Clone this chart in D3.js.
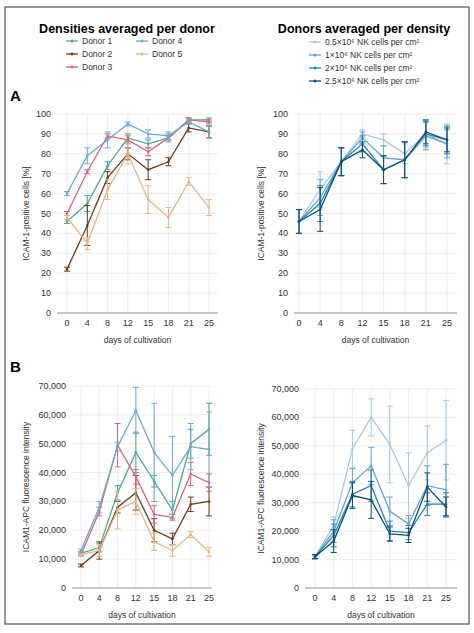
<!DOCTYPE html><html><head><meta charset="utf-8">
<script src="https://cdn.jsdelivr.net/npm/d3@7"></script>
<style>body{margin:0;background:#fff}text{font-family:"Liberation Sans",Arial,sans-serif}</style></head><body>
<svg id="c" width="474" height="633"></svg>
<script>
const days=["0","4","8","12","15","18","21","25"];
const donors=["Donor 1","Donor 2","Donor 3","Donor 4","Donor 5"];
const donorColors=["#4aa98c","#6b3b1c","#d8647e","#6ea9d2","#eab486"];
const densities=["0.5×10⁶ NK cells per cm²","1×10⁶ NK cells per cm²","2×10⁶ NK cells per cm²","2.5×10⁶ NK cells per cm²"];
const densityColors=["#a9c9de","#5ea7cf","#2186bd","#0f4c70"];
const pctDonor=[[46,55,74,88,85,88,97,97],[22,44,68,80,72,76,93,91],[50,71,89,87,81,88,97,96],[60,79,87,95,90,89,96,91],[48,35,62,80,57,48,66,53]];
const pctDonorErr=[[1,4,2,2,2,2,1,1],[1,10,3,3,5,2,2,3],[1,1,1,2,2,1,1,1],[1,4,4,1,2,2,1,3],[1,3,5,5,7,5,2,4]];
const pctDens=[[46,62,76,90,87,80,90,85],[46,58,76,88,78,77,89,85],[46,55,76,85,72,77,90,87],[46,52,76,82,72,77,91,87]];
const pctDensErr=[[6,9,7,2,3,5,7,10],[6,9,7,3,6,9,7,7],[6,9,7,4,7,9,6,7],[6,11,7,4,7,9,6,6]];
const mfiDonor=[[12000,14000,33000,47000,37000,27000,50000,55000],[7800,13000,28000,33000,20000,17000,29000,30000],[11500,26500,49500,38500,25500,24500,39500,36500],[13000,28000,49000,61500,47000,39000,49000,48000],[11500,13000,27000,30000,16000,13000,18500,12500]];
const mfiDonorErr=[[500,1500,2500,7000,2000,3000,5000,9000],[500,3000,2000,6000,4000,2000,2500,5000],[500,1500,7500,2500,3000,1000,4000,3000],[500,2000,1500,8000,17000,13500,8000,13000],[500,2000,6500,4500,3000,2000,1000,1500]];
const mfiDens=[[11000,22000,49000,60000,50500,36000,47500,52000],[11000,20000,37000,43000,27000,22500,36000,34500],[11000,18500,33000,36000,20000,19500,29500,29500],[11000,16500,32500,31000,19000,18500,35500,28500]];
const mfiDensErr=[[700,3000,6500,6500,13500,11500,9500,14000],[700,4000,5000,6500,5000,3000,7000,9000],[700,4000,4500,5500,3500,2500,4000,4000],[700,4000,4500,6500,2500,2500,5000,3500]];

const svg=d3.select("#c");
svg.append("rect").attr("x",5).attr("y",7).attr("width",464).attr("height",617).attr("fill","none").attr("stroke","#555").attr("stroke-width",1.2);

function panel(o){
  const x=d3.scalePoint().domain(days).range([o.x0,o.x1]);
  const y=d3.scaleLinear().domain([0,o.max]).range([o.yb,o.yt]);
  const g=svg.append("g");
  const ticks=d3.range(0,o.max+1,o.step);
  g.selectAll(".hg").data(ticks).join("line").attr("x1",o.l).attr("x2",o.r).attr("y1",d=>y(d)).attr("y2",d=>y(d)).attr("stroke","#e8e8e8").attr("stroke-width",0.8);
  g.selectAll(".vg").data(days).join("line").attr("x1",d=>x(d)).attr("x2",d=>x(d)).attr("y1",o.yt).attr("y2",o.yb).attr("stroke","#e8e8e8").attr("stroke-width",0.8);
  g.append("line").attr("x1",o.l).attr("x2",o.r).attr("y1",o.yb).attr("y2",o.yb).attr("stroke","#999");
  g.selectAll(".yl").data(ticks).join("text").attr("x",o.l-6).attr("y",d=>y(d)+3).attr("text-anchor","end").attr("font-size",9).attr("fill","#333").text(d=>o.fmt(d));
  g.selectAll(".xl").data(days).join("text").attr("x",d=>x(d)).attr("y",o.yb+13).attr("text-anchor","middle").attr("font-size",9).attr("fill","#333").text(d=>d);
  g.append("text").attr("x",(o.l+o.r)/2).attr("y",o.yb+30).attr("text-anchor","middle").attr("font-size",8.5).attr("fill","#333").text("days of cultivation");
  g.append("text").attr("transform",`translate(${o.yx},${(o.yt+o.yb)/2}) rotate(-90)`).attr("text-anchor","middle").attr("font-size",8.5).attr("fill","#333").text(o.ylab);
  const line=d3.line().x((d,i)=>x(days[i])).y(d=>y(d));
  o.data.forEach((s,k)=>{
    const c=o.colors[k];
    g.append("path").attr("d",line(s)).attr("fill","none").attr("stroke",c).attr("stroke-width",1.3);
    s.forEach((v,i)=>{
      const e=o.err[k][i],xx=x(days[i]);
      g.append("line").attr("x1",xx).attr("x2",xx).attr("y1",y(v-e)).attr("y2",y(v+e)).attr("stroke",c).attr("stroke-width",1);
      [v-e,v+e].forEach(w=>g.append("line").attr("x1",xx-3).attr("x2",xx+3).attr("y1",y(w)).attr("y2",y(w)).attr("stroke",c).attr("stroke-width",1));
      g.append("circle").attr("cx",xx).attr("cy",y(v)).attr("r",1.3).attr("fill",c);
    });
  });
}
const fmtP=d=>d, fmtM=d3.format(",");
panel({x0:67,x1:209,l:57,r:218,yt:114,yb:313,max:100,step:10,fmt:fmtP,yx:29,ylab:"ICAM-1-positive cells [%]",data:pctDonor,err:pctDonorErr,colors:donorColors});
panel({x0:299,x1:447,l:294,r:457,yt:114,yb:313,max:100,step:10,fmt:fmtP,yx:264,ylab:"ICAM-1-positive cells [%]",data:pctDens,err:pctDensErr,colors:densityColors});
panel({x0:81,x1:209,l:72,r:212,yt:386,yb:588,max:70000,step:10000,fmt:fmtM,yx:29,ylab:"ICAM1-APC fluorescence intensity",data:mfiDonor,err:mfiDonorErr,colors:donorColors});
panel({x0:315,x1:446,l:305,r:457,yt:389,yb:588,max:70000,step:10000,fmt:fmtM,yx:264,ylab:"ICAM1-APC fluorescence intensity",data:mfiDens,err:mfiDensErr,colors:densityColors});

svg.append("text").attr("x",127).attr("y",33).attr("text-anchor","middle").attr("font-size",12.5).attr("font-weight","bold").text("Densities averaged per donor");
svg.append("text").attr("x",364).attr("y",33).attr("text-anchor","middle").attr("font-size",12.5).attr("font-weight","bold").text("Donors averaged per density");
svg.append("text").attr("x",10).attr("y",101).attr("font-size",15).attr("font-weight","bold").text("A");
svg.append("text").attr("x",10).attr("y",372).attr("font-size",15).attr("font-weight","bold").text("B");
function legItem(x,y,c,t){
  svg.append("line").attr("x1",x).attr("x2",x+12).attr("y1",y).attr("y2",y).attr("stroke",c).attr("stroke-width",1.3);
  svg.append("circle").attr("cx",x+6).attr("cy",y).attr("r",1.5).attr("fill",c);
  svg.append("text").attr("x",x+16).attr("y",y+3).attr("font-size",8.5).attr("fill","#333").text(t);
}
const lp=[[66,41],[66,54],[66,67],[136,41],[136,54]];
donors.forEach((d,i)=>legItem(lp[i][0],lp[i][1],donorColors[i],d));
densities.forEach((d,i)=>legItem(309,42+i*13,densityColors[i],d));
</script></body></html>
